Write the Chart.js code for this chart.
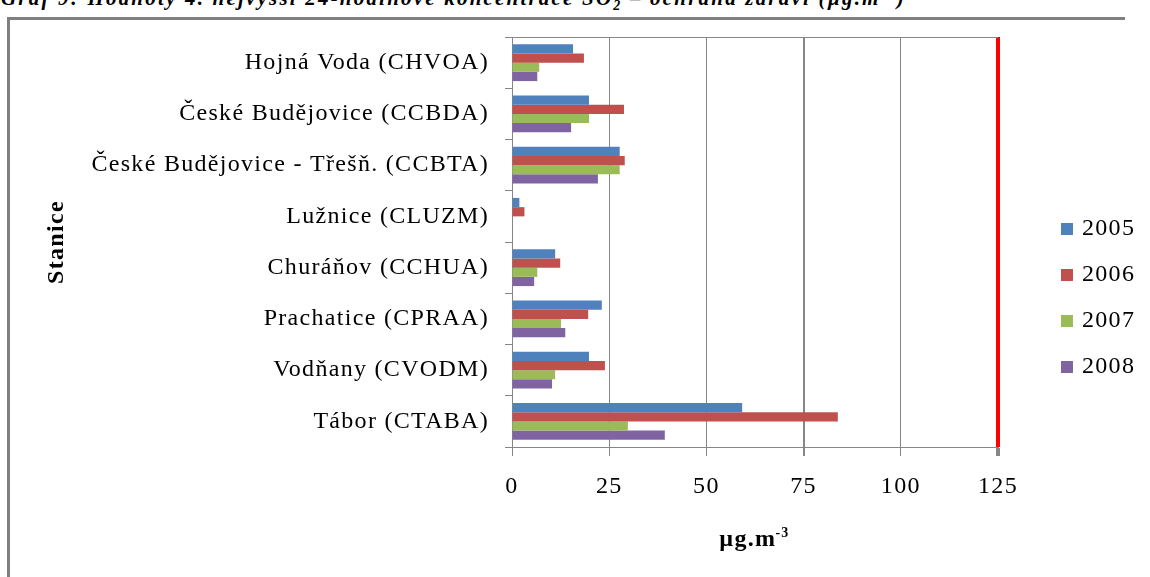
<!DOCTYPE html>
<html>
<head>
<meta charset="utf-8">
<script src="https://cdn.jsdelivr.net/npm/chart.js@4.4.0/dist/chart.umd.min.js"></script>
<style>
    body { margin: 0; width: 1150px; height: 577px; overflow: hidden; background: #fff; position: relative; font-family: 'Times New Roman', 'Liberation Serif', Times, serif; }
    #frame { position: absolute; left: 7px; top: 17px; width: 1115px; height: 620px; border-top: 3px solid #7f7f7f; border-left: 3px solid #7f7f7f; }
    #caption { position: absolute; left: 1px; top: -15px; font-style: italic; font-weight: bold; font-size: 21px; letter-spacing: 2.2px; white-space: nowrap; color: #000; }
    #caption sub, #caption sup { font-size: 14px; }
    #wrap { position: absolute; left: 0; top: 0; width: 1150px; height: 577px; }
</style>
</head>
<body>
<div id="frame"></div>
<div id="caption">Graf 9: Hodnoty 4. nejvyšší 24-hodinové koncentrace SO<sub>2</sub> – ochrana zdraví (µg.m<sup>-3</sup>)</div>
<div id="wrap"><canvas id="chart"></canvas></div>
<script>
const station_labels = [
    'Hojná Voda (CHVOA)',
    'České Budějovice (CCBDA)',
    'České Budějovice - Třešň. (CCBTA)',
    'Lužnice (CLUZM)',
    'Churáňov (CCHUA)',
    'Prachatice (CPRAA)',
    'Vodňany (CVODM)',
    'Tábor (CTABA)'
];

const year_labels = ['2005', '2006', '2007', '2008'];

const values_2005 = [15.7, 19.8, 27.7, 1.9, 11.1, 23.1, 19.8, 59.2];
const values_2006 = [18.5, 28.8, 29.0, 3.2, 12.4, 19.6, 23.9, 83.8];
const values_2007 = [7.0, 19.8, 27.7, null, 6.5, 12.6, 11.1, 29.8];
const values_2008 = [6.5, 15.2, 22.1, null, 5.7, 13.7, 10.3, 39.3];

const x_ticks = [0, 25, 50, 75, 100, 125];
const limit_value = 125;

const series_colors = ['#4f81bd', '#c0504d', '#9bbb59', '#8064a2'];
const grid_color = '#868686';
const letter_gap = '1.3px';
const serif = '"Times New Roman", "Liberation Serif", Times, serif';

// legend and axis titles drawn by hand (superscript in the unit)
const draw_extras = {
    id: 'draw_extras',
    beforeDraw(chart) {
        chart.ctx.letterSpacing = letter_gap;
    },
    afterDraw(chart) {
        const ctx = chart.ctx;
        const area = chart.chartArea;

        ctx.save();
        ctx.letterSpacing = letter_gap;
        ctx.textBaseline = 'middle';
        ctx.textAlign = 'left';
        ctx.font = '24px ' + serif;

        chart.data.datasets.forEach((ds, i) => {
            const y = area.top + 192 + i * 46;
            ctx.fillStyle = ds.backgroundColor;
            ctx.fillRect(area.right + 63, y - 6, 12, 12);
            ctx.fillStyle = '#000';
            ctx.fillText(ds.label, area.right + 84, y);
        });

        // y title
        ctx.save();
        ctx.font = 'bold 24px ' + serif;
        ctx.translate(57, (area.top + area.bottom) / 2);
        ctx.rotate(-Math.PI / 2);
        ctx.textAlign = 'center';
        ctx.fillText('Stanice', 0, 0);
        ctx.restore();

        // x title with superscript
        ctx.textBaseline = 'alphabetic';
        ctx.font = 'bold 24px ' + serif;
        const main_w = ctx.measureText('µg.m').width;
        ctx.font = 'bold 14px ' + serif;
        const sup_w = ctx.measureText('-3').width;
        const start_x = (area.left + area.right) / 2 - (main_w + sup_w) / 2;
        ctx.font = 'bold 24px ' + serif;
        ctx.fillText('µg.m', start_x, 546);
        ctx.font = 'bold 14px ' + serif;
        ctx.fillText('-3', start_x + main_w - 1, 537);

        ctx.restore();
    }
};

const series_values = [values_2005, values_2006, values_2007, values_2008];

const datasets = year_labels.map((label, i) => {
    return {
        label: label,
        data: series_values[i],
        backgroundColor: series_colors[i],
        borderWidth: 0
    };
});

const tick_font = { family: serif, size: 24 };

new Chart(document.getElementById('chart'), {
    type: 'bar',
    data: {
        labels: station_labels,
        datasets: datasets
    },
    options: {
        indexAxis: 'y',
        responsive: true,
        maintainAspectRatio: false,
        animation: false,
        layout: {
            padding: { top: 37, right: 152, left: 0, bottom: 0 }
        },
        datasets: {
            bar: { categoryPercentage: 0.72, barPercentage: 1 }
        },
        plugins: {
            legend: { display: false },
            tooltip: { enabled: false }
        },
        scales: {
            x: {
                min: x_ticks[0],
                max: x_ticks[x_ticks.length - 1],
                afterBuildTicks(scale) {
                    scale.ticks = x_ticks.map(v => ({ value: v }));
                },
                ticks: { padding: 16, font: tick_font, color: '#000' },
                grid: {
                    color: c => (c.tick && c.tick.value === limit_value) ? '#ff0000' : grid_color,
                    lineWidth: c => {
                        if (c.tick && c.tick.value === limit_value) return 4;
                        if (c.tick && c.tick.value === 75) return 2;
                        return 1;
                    },
                    tickLength: 9,
                    tickColor: grid_color
                },
                border: { color: grid_color, width: 1 },
                afterFit(scale) {
                    scale.height = 130;
                }
            },
            y: {
                ticks: { padding: 16, font: tick_font, color: '#000' },
                grid: {
                    offset: true,
                    color: c => c.index === 0 ? grid_color : 'rgba(0,0,0,0)',
                    tickLength: 7,
                    tickColor: grid_color
                },
                border: { color: grid_color, width: 1 },
                afterFit(scale) {
                    scale.width = 512;
                }
            }
        }
    },
    plugins: [draw_extras]
});
</script>
</body>
</html>
